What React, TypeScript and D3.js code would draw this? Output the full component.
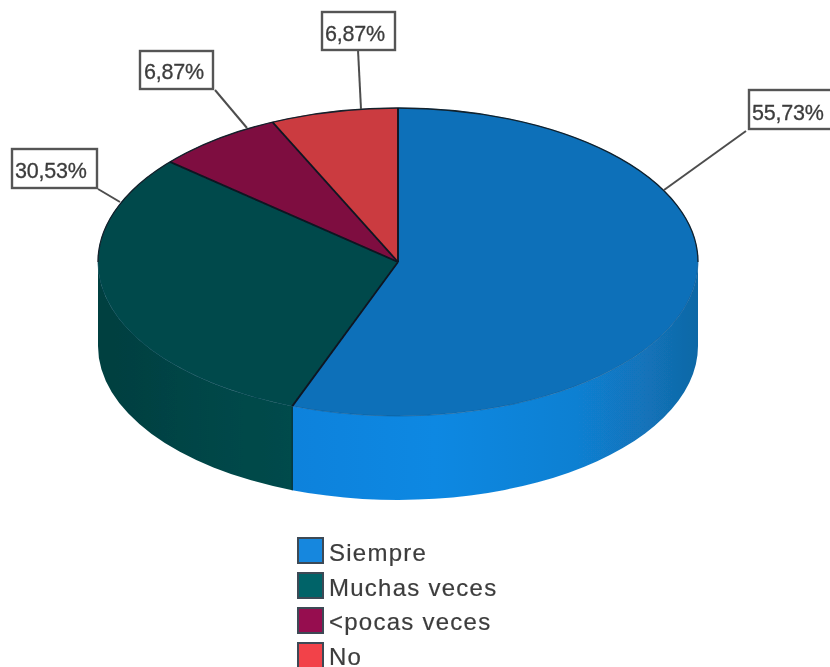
import React from "react";
import * as d3 from "d3";

const categories = ["Siempre", "Muchas veces", "<pocas veces", "No"];
const values = [55.73, 30.53, 6.87, 6.87];
const sliceLabels = ["55,73%", "30,53%", "6,87%", "6,87%"];
const topColors = ["#1070b9", "#034a4c", "#7e1040", "#cb3a40"];
const legendColors = ["#1487de", "#056468", "#96104f", "#f2424a"];

const W = 830, H = 667;
const cx = 398, cy = 262, rx = 300, ry = 154, depth = 84;
const font = "'Liberation Sans', Arial, sans-serif";
const ink = "#3c3c3c";

// Label box layout, by slice index: box and leader endpoints.
const labelLayout = [
  { x: 749, y: 90, w: 84, h: 39, tx: 752, ty: 120, lx1: 746, ly1: 131, lx2: 664, ly2: 190 },
  { x: 12, y: 149, w: 85, h: 39, tx: 15, ty: 178, lx1: 98, ly1: 189, lx2: 120, ly2: 202 },
  { x: 140, y: 51, w: 73, h: 38, tx: 144, ty: 79, lx1: 215, ly1: 90, lx2: 247, ly2: 128 },
  { x: 322, y: 12, w: 73, h: 38, tx: 325, ty: 41, lx1: 358, ly1: 50, lx2: 361, ly2: 109 },
];

const pieGen = d3.pie<number>().sort(null).startAngle(0).endAngle(2 * Math.PI);
const arcs = pieGen(values);
const arcGen = d3.arc<d3.PieArcDatum<number>>().innerRadius(0).outerRadius(rx);

const px = (a: number) => cx + rx * Math.sin(a);
const py = (a: number) => cy - ry * Math.cos(a);

function sidePath(a0: number, a1: number) {
  const s = Math.max(a0, Math.PI / 2);
  const e = Math.min(a1, (3 * Math.PI) / 2);
  if (e <= s) return "";
  return `M${px(s)},${py(s)} A${rx},${ry} 0 0 1 ${px(e)},${py(e)} L${px(e)},${py(e) + depth} A${rx},${ry} 0 0 0 ${px(s)},${py(s) + depth} Z`;
}

const spokeGen = d3.line();

export default function App() {
  return (
    <svg
      width={W}
      height={H}
      viewBox={`0 0 ${W} ${H}`}
      style={{ position: "absolute", left: 0, top: 0, background: "#fff", fontFamily: font }}
    >
      <defs>
        <filter id="soft" filterUnits="userSpaceOnUse" x={0} y={0} width={W} height={H}>
          <feGaussianBlur stdDeviation="0.75" />
        </filter>
        <linearGradient id="side0" gradientUnits="userSpaceOnUse" x1={293} x2={698} y1={0} y2={0}>
          <stop offset="0" stopColor="#0e82dc" />
          <stop offset="0.35" stopColor="#0f88e2" />
          <stop offset="0.7" stopColor="#1180d2" />
          <stop offset="0.88" stopColor="#1272b8" />
          <stop offset="1" stopColor="#1068a6" />
        </linearGradient>
        <linearGradient id="side1" gradientUnits="userSpaceOnUse" x1={98} x2={293} y1={0} y2={0}>
          <stop offset="0" stopColor="#033f40" />
          <stop offset="1" stopColor="#044b4c" />
        </linearGradient>
      </defs>
      <g filter="url(#soft)">
        {arcs.map((d, i) => {
          const p = sidePath(d.startAngle, d.endAngle);
          return p ? <path key={i} d={p} fill={`url(#side${i})`} /> : null;
        })}
        <path
          d={spokeGen([[px(arcs[0].endAngle), py(arcs[0].endAngle)], [px(arcs[0].endAngle), py(arcs[0].endAngle) + depth]]) ?? ""}
          stroke="#033238"
          strokeWidth={1.2}
          fill="none"
        />
        <g transform={`translate(${cx},${cy}) scale(1,${ry / rx})`}>
          {arcs.map((d, i) => (
            <path key={i} d={arcGen(d) ?? ""} fill={topColors[i]} stroke={topColors[i]} strokeWidth={0.5} vectorEffect="non-scaling-stroke" />
          ))}
        </g>
        <path
          d={`M${px(Math.PI / 2)},${py(Math.PI / 2)} A${rx},${ry} 0 0 0 ${px(-Math.PI / 2)},${py(-Math.PI / 2)}`}
          fill="none"
          stroke="#12202c"
          strokeWidth={1.3}
        />
        <path
          d={`M${px(Math.PI / 2)},${py(Math.PI / 2)} A${rx},${ry} 0 0 1 ${px((3 * Math.PI) / 2)},${py((3 * Math.PI) / 2)}`}
          fill="none"
          stroke="#0a3a5c"
          strokeWidth={0.8}
          strokeOpacity={0.3}
        />
        {arcs.map((d, i) => (
          <path
            key={i}
            d={spokeGen([[cx, cy], [px(d.startAngle), py(d.startAngle)]]) ?? ""}
            stroke="#0c1420"
            strokeWidth={1.8}
            fill="none"
          />
        ))}
        {arcs.map((_, i) => {
          const l = labelLayout[i];
          return (
            <g key={i}>
              <path d={spokeGen([[l.lx1, l.ly1], [l.lx2, l.ly2]]) ?? ""} stroke="#4d4d4d" strokeWidth={2} fill="none" />
              <rect x={l.x} y={l.y} width={l.w} height={l.h} fill="#fff" stroke="#555" strokeWidth={2.4} />
              <text x={l.tx} y={l.ty} fontSize={21.5} fill={ink} letterSpacing={-0.2} stroke={ink} strokeWidth={0.3}>{sliceLabels[i]}</text>
            </g>
          );
        })}
        {categories.map((c, i) => (
          <g key={c}>
            <rect x={298} y={538 + i * 35} width={25} height={25} fill={legendColors[i]} stroke="#3c4a55" strokeWidth={2} />
            <text x={329} y={561 + i * 34.6} fontSize={24} fill={ink} letterSpacing={1.25} stroke={ink} strokeWidth={0.2}>{c}</text>
          </g>
        ))}
      </g>
    </svg>
  );
}
